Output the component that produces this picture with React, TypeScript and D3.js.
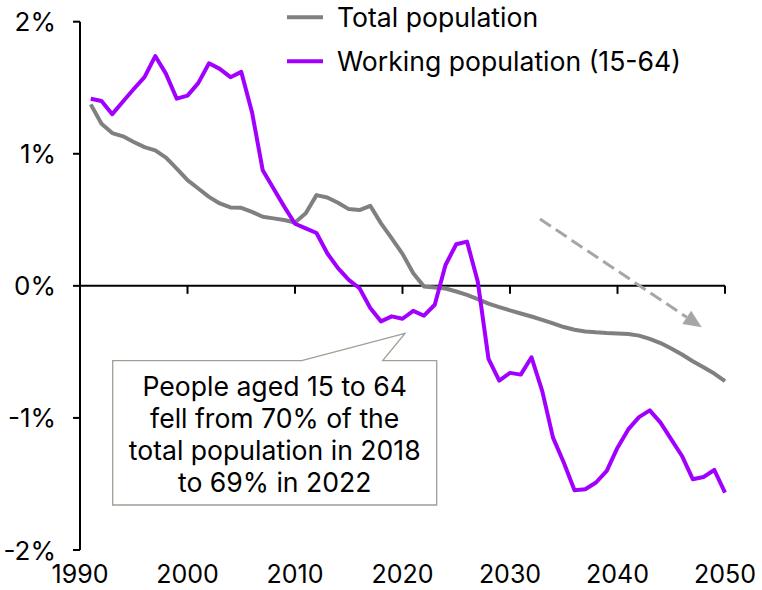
import React from "react";
import * as d3 from "d3";

const years: number[] = d3.range(1991, 2051);
const totalPopulation: number[] = [
  1.374, 1.228, 1.157, 1.132, 1.089, 1.05, 1.026, 0.971, 0.888, 0.8,
  0.737, 0.674, 0.624, 0.594, 0.591, 0.56, 0.523, 0.511, 0.498, 0.48,
  0.549, 0.687, 0.669, 0.629, 0.581, 0.574, 0.606, 0.473, 0.36, 0.242,
  0.096, -0.005, -0.013, -0.02, -0.043, -0.068, -0.1, -0.135, -0.161, -0.186,
  -0.209, -0.232, -0.257, -0.284, -0.312, -0.332, -0.345, -0.352, -0.357, -0.36,
  -0.365, -0.377, -0.402, -0.433, -0.475, -0.52, -0.571, -0.616, -0.664, -0.722,
];
const workingPopulation: number[] = [
  1.417, 1.4, 1.3, 1.396, 1.49, 1.58, 1.74, 1.605, 1.417, 1.44,
  1.535, 1.685, 1.643, 1.58, 1.62, 1.315, 0.875, 0.737, 0.6, 0.47,
  0.435, 0.4, 0.247, 0.134, 0.045, -0.018, -0.168, -0.269, -0.231, -0.249,
  -0.189, -0.226, -0.143, 0.158, 0.315, 0.335, 0.033, -0.553, -0.717, -0.659,
  -0.672, -0.541, -0.797, -1.149, -1.338, -1.547, -1.54, -1.489, -1.401, -1.225,
  -1.087, -0.994, -0.943, -1.036, -1.162, -1.288, -1.464, -1.447, -1.394, -1.565,
];
const xTicks: number[] = [1990, 2000, 2010, 2020, 2030, 2040, 2050];
const yTicks: number[] = [2, 1, 0, -1, -2];
const seriesNames: string[] = ["Total population", "Working population (15-64)"];
const seriesColors: string[] = ["#808080", "#A100FF"];
const annotationLines: string[] = [
  "People aged 15 to 64",
  "fell from 70% of the",
  "total population in 2018",
  "to 69% in 2022",
];

const W = 762;
const H = 590;
const FONT = "Inter, 'Noto Sans', sans-serif";

export default function App() {
  const x = d3.scaleLinear().domain([1990, 2050]).range([80, 725]);
  const y = d3.scaleLinear().domain([-2, 2]).range([550, 21.7]);
  const line = d3
    .line<[number, number]>()
    .x((d) => x(d[0]))
    .y((d) => y(d[1]))
    .curve(d3.curveLinear);
  const series = [totalPopulation, workingPopulation];

  // arrow
  const ax1 = 540, ay1 = 219, ax2 = 701.7, ay2 = 327.3;
  const ang = Math.atan2(ay2 - ay1, ax2 - ax1);
  const headLen = 18, headHalf = 8;
  const bx = ax2 - headLen * Math.cos(ang);
  const by = ay2 - headLen * Math.sin(ang);
  const p1 = [bx + headHalf * Math.sin(ang), by - headHalf * Math.cos(ang)];
  const p2 = [bx - headHalf * Math.sin(ang), by + headHalf * Math.cos(ang)];

  // callout
  const bxL = 112.7, bxR = 436.7, byT = 360.7, byB = 505;
  const ptrA = 301.7, ptrB = 382.7, tipX = 405, tipY = 333.3;
  const calloutPath = `M${bxL},${byT} L${ptrA},${byT} L${tipX},${tipY} L${ptrB},${byT} L${bxR},${byT} L${bxR},${byB} L${bxL},${byB} Z`;
  const cx = (bxL + bxR) / 2;

  return (
    <svg
      width={W}
      height={H}
      style={{ position: "absolute", left: 0, top: 0, background: "#fff" }}
      fontFamily={FONT}
    >
      {/* y axis */}
      <line x1={80} x2={80} y1={y(2)} y2={y(-2)} stroke="#000" strokeWidth={2} />
      {yTicks.map((t) => (
        <g key={t}>
          <line x1={73} x2={80} y1={y(t)} y2={y(t)} stroke="#000" strokeWidth={2} />
          <text
            x={56}
            y={y(t)}
            textAnchor="end"
            dominantBaseline="central"
            fontSize={26}
            fill="#000"
          >
            {`${t}%`}
          </text>
        </g>
      ))}
      {/* x axis at zero */}
      <line x1={80} x2={x(2050)} y1={y(0)} y2={y(0)} stroke="#000" strokeWidth={2} />
      {xTicks.map((t) => (
        <g key={t}>
          <line x1={x(t)} x2={x(t)} y1={y(0)} y2={y(0) + 8} stroke="#000" strokeWidth={2} />
          <text x={x(t)} y={583} textAnchor="middle" fontSize={25} fill="#000">
            {t}
          </text>
        </g>
      ))}
      {/* series */}
      {series.map((s, i) => (
        <path
          key={i}
          d={line(years.map((yr, j) => [yr, s[j]] as [number, number])) || ""}
          fill="none"
          stroke={seriesColors[i]}
          strokeWidth={4}
          strokeLinejoin="round"
        />
      ))}
      {/* dashed arrow */}
      <line
        x1={ax1}
        y1={ay1}
        x2={bx}
        y2={by}
        stroke="#a6a6a6"
        strokeWidth={3}
        strokeDasharray="13,6"
      />
      <polygon points={`${ax2},${ay2} ${p1[0]},${p1[1]} ${p2[0]},${p2[1]}`} fill="#a6a6a6" />
      {/* legend */}
      {seriesNames.map((n, i) => (
        <g key={n} transform={`translate(287,${17.3 + i * 44})`}>
          <line x1={0} x2={36} y1={0} y2={0} stroke={seriesColors[i]} strokeWidth={4} />
          <text x={50} y={0} dominantBaseline="central" fontSize={26.6} fill="#000">
            {n}
          </text>
        </g>
      ))}
      {/* callout */}
      <path d={calloutPath} fill="#fff" stroke="#a09f94" strokeWidth={1.3} />
      {annotationLines.map((l, i) => (
        <text
          key={i}
          x={cx}
          y={396 + i * 32}
          textAnchor="middle"
          fontSize={26.6}
          fill="#000"
        >
          {l}
        </text>
      ))}
    </svg>
  );
}
